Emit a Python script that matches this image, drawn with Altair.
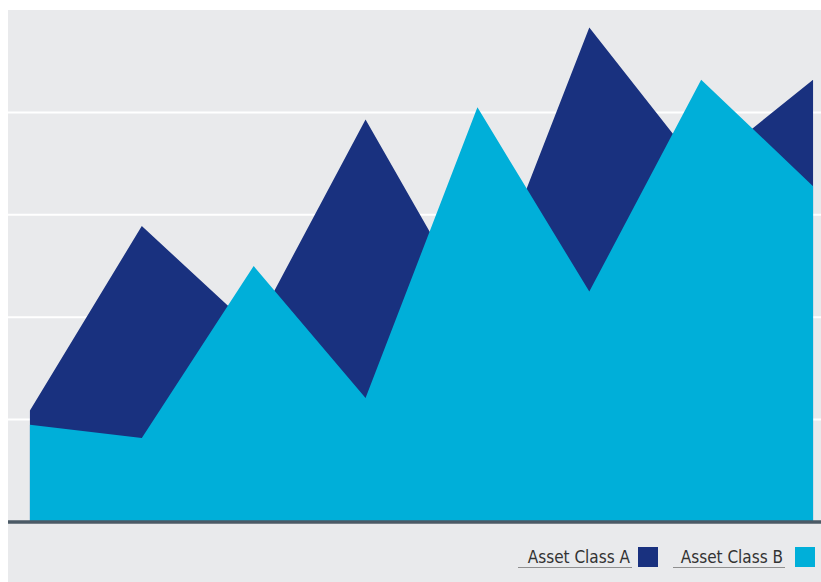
import altair as alt
import pandas as pd

periods = [0, 1, 2, 3, 4, 5, 6, 7]
series_names = ["Asset Class A", "Asset Class B"]
asset_a = [10.9, 28.9, 18.8, 39.3, 20.2, 48.3, 34.4, 43.2]
asset_b = [9.5, 8.2, 25.0, 12.1, 40.5, 22.5, 43.2, 32.8]
grid_values = [10, 20, 30, 40]

NAVY = "#19317f"
CYAN = "#00afd9"
BG = "#e9eaec"

df = pd.DataFrame({
    "period": periods * 2,
    "value": asset_a + asset_b,
    "series": [series_names[0]] * len(periods) + [series_names[1]] * len(periods),
})

W, H = 813, 572
xscale = alt.Scale(domain=[-0.196, 7.071], nice=False, zero=False)
yscale = alt.Scale(domain=[-5.86, 50], nice=False, zero=False)

grid = alt.Chart(pd.DataFrame({"g": grid_values})).mark_rule(
    color="white", strokeWidth=2
).encode(y=alt.Y("g:Q", scale=yscale, axis=None))

def area_for(name, color):
    return alt.Chart(df).transform_filter(
        alt.datum.series == name
    ).mark_area(color=color, opacity=1, interpolate="linear").encode(
        x=alt.X("period:Q", scale=xscale, axis=None),
        y=alt.Y("value:Q", scale=yscale, axis=None),
        y2=alt.datum(0),
    )

area_a = area_for(series_names[0], NAVY)
area_b = area_for(series_names[1], CYAN)

baseline = alt.Chart(pd.DataFrame({"z": [0]})).mark_rule(
    color="#4b5a66", strokeWidth=3.5
).encode(y=alt.Y("z:Q", scale=yscale, axis=None))

legend_layers = []
legend_layout = [
    (series_names[0], NAVY, 622, 510, 624, 630),
    (series_names[1], CYAN, 775, 665, 777, 787),
]
one = pd.DataFrame({"k": [0]})
for name, color, text_right, ul_x1, ul_x2, sw_x in legend_layout:
    legend_layers.append(
        alt.Chart(one).mark_text(
            text=name, align="right", baseline="alphabetic",
            font="Liberation Sans Narrow, DejaVu Sans Condensed, Arial Narrow, sans-serif",
            fontSize=17, color="#333333",
        ).encode(x=alt.value(text_right), y=alt.value(553))
    )
    legend_layers.append(
        alt.Chart(one).mark_rule(color="#8f8f8f", strokeWidth=1).encode(
            x=alt.value(ul_x1), x2=alt.value(ul_x2), y=alt.value(557.5)
        )
    )
    legend_layers.append(
        alt.Chart(one).mark_rect(color=color).encode(
            x=alt.value(sw_x), x2=alt.value(sw_x + 20),
            y=alt.value(537), y2=alt.value(557),
        )
    )

chart = alt.layer(grid, area_a, area_b, baseline, *legend_layers).properties(
    width=W, height=H,
    autosize=alt.AutoSizeParams(type="none"),
    padding={"left": 8, "top": 10, "right": 0, "bottom": 0},
    background="white",
).configure_view(fill=BG, stroke=None)

chart.save("out.html", embed_options={"renderer": "svg", "actions": False})
